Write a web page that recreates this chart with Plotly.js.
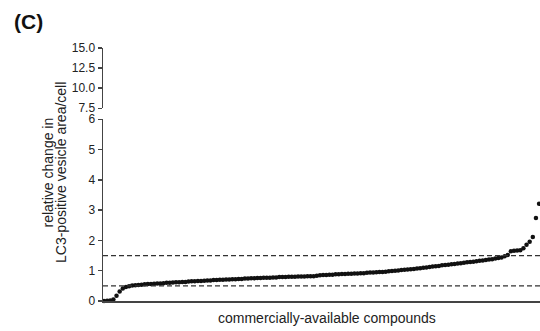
<!DOCTYPE html>
<html>
<head>
<meta charset="utf-8">
<script src="https://cdn.plot.ly/plotly-3.0.1.min.js"></script>
<style>
  html, body { margin: 0; padding: 0; background: #fff; }
  #chart { width: 540px; height: 331px; }
</style>
</head>
<body>
<div id="chart"></div>
<script>
// Relative change in LC3-positive vesicle area per cell, one value per compound,
// ranked from lowest to highest.
const relativeChange = [
  0.00, 0.01, 0.02, 0.05, 0.17, 0.31, 0.41, 0.46, 0.49, 0.51,
  0.52, 0.53, 0.54, 0.55, 0.56, 0.56, 0.57, 0.58, 0.58, 0.59,
  0.60, 0.60, 0.61, 0.62, 0.62, 0.63, 0.63, 0.64, 0.65, 0.65,
  0.66, 0.66, 0.67, 0.68, 0.68, 0.69, 0.69, 0.70, 0.70, 0.71,
  0.71, 0.72, 0.72, 0.73, 0.73, 0.74, 0.74, 0.75, 0.75, 0.76,
  0.76, 0.77, 0.77, 0.77, 0.78, 0.78, 0.79, 0.79, 0.79, 0.80,
  0.80, 0.80, 0.81, 0.81, 0.81, 0.82, 0.82, 0.82, 0.83, 0.85,
  0.86, 0.86, 0.87, 0.87, 0.88, 0.88, 0.89, 0.89, 0.90, 0.90,
  0.91, 0.91, 0.92, 0.92, 0.93, 0.94, 0.94, 0.95, 0.96, 0.96,
  0.97, 0.98, 0.99, 1.00, 1.01, 1.02, 1.03, 1.04, 1.05, 1.06,
  1.07, 1.08, 1.10, 1.11, 1.12, 1.14, 1.15, 1.16, 1.18, 1.19,
  1.20, 1.21, 1.22, 1.24, 1.25, 1.26, 1.28, 1.29, 1.30, 1.31,
  1.33, 1.34, 1.35, 1.37, 1.38, 1.40, 1.42, 1.44, 1.48, 1.52,
  1.64, 1.66, 1.67, 1.68, 1.74, 1.86, 1.96, 2.11, 2.74, 3.21
];
const compoundRank = relativeChange.map((_, i) => i);

// Threshold lines
const thresholds = [0.5, 1.5];

// Broken y axis: lower and upper segments
const lowerTicks = [0, 1, 2, 3, 4, 5, 6];
const upperTicks = [7.5, 10.0, 12.5, 15.0];

const FONT = '"Liberation Sans", Arial, Helvetica, sans-serif';
const INK = '#222';
const AXIS = '#444';

const traces = [
  {
    x: compoundRank,
    y: relativeChange,
    type: 'scatter',
    mode: 'markers',
    marker: { size: 4.5, color: '#111' },
    cliponaxis: false,
    xaxis: 'x',
    yaxis: 'y',
    showlegend: false,
    hoverinfo: 'skip'
  },
  {
    x: [],
    y: [],
    type: 'scatter',
    mode: 'markers',
    xaxis: 'x',
    yaxis: 'y2',
    showlegend: false
  }
];

const commonY = {
  showline: true,
  linecolor: AXIS,
  linewidth: 1.5,
  ticks: 'outside',
  ticklen: 4,
  tickwidth: 1.5,
  tickcolor: AXIS,
  showgrid: false,
  zeroline: false,
  tickfont: { family: FONT, size: 12, color: INK },
  fixedrange: true
};

const layout = {
  width: 540,
  height: 331,
  margin: { l: 103, r: 0, t: 48, b: 30 },
  paper_bgcolor: '#fff',
  plot_bgcolor: '#fff',
  font: { family: FONT, color: INK },
  xaxis: {
    range: [-0.32, 139.3],
    showline: true,
    linecolor: AXIS,
    linewidth: 1.5,
    ticks: '',
    showticklabels: false,
    showgrid: false,
    zeroline: false,
    anchor: 'y',
    fixedrange: true
  },
  yaxis: Object.assign({}, commonY, {
    domain: [0, 0.7182],
    range: [0, 6],
    tickvals: lowerTicks,
    ticktext: lowerTicks.map(String),
    anchor: 'x'
  }),
  yaxis2: Object.assign({}, commonY, {
    domain: [0.7617, 1],
    range: [7.5, 15],
    tickvals: upperTicks,
    ticktext: upperTicks.map(v => v.toFixed(1)),
    anchor: 'x'
  }),
  shapes: thresholds.map(v => ({
    type: 'line',
    xref: 'paper', x0: 0, x1: 1,
    yref: 'y', y0: v, y1: v,
    line: { color: '#333', width: 1.3, dash: '5px,3px' }
  })),
  annotations: [
    {
      text: '<b>(C)</b>',
      xref: 'paper', yref: 'paper',
      x: -0.208, y: 1.105,
      xanchor: 'left', yanchor: 'middle',
      showarrow: false,
      font: { family: FONT, size: 21, color: '#111' }
    },
    {
      text: 'relative change in',
      xref: 'paper', yref: 'paper',
      x: (47.5 - 103) / 437, y: 0.506,
      xanchor: 'center', yanchor: 'middle',
      textangle: -90,
      showarrow: false,
      font: { family: FONT, size: 14, color: INK }
    },
    {
      text: 'LC3-positive vesicle area/cell',
      xref: 'paper', yref: 'paper',
      x: (61 - 103) / 437, y: 0.506,
      xanchor: 'center', yanchor: 'middle',
      textangle: -90,
      showarrow: false,
      font: { family: FONT, size: 14, color: INK }
    },
    {
      text: 'commercially-available compounds',
      xref: 'paper', yref: 'paper',
      x: (326.5 - 103) / 437, y: (301 - 318) / 253,
      xanchor: 'center', yanchor: 'middle',
      showarrow: false,
      font: { family: FONT, size: 14, color: INK }
    }
  ]
};

Plotly.newPlot('chart', traces, layout, { staticPlot: true, displayModeBar: false });
</script>
</body>
</html>
